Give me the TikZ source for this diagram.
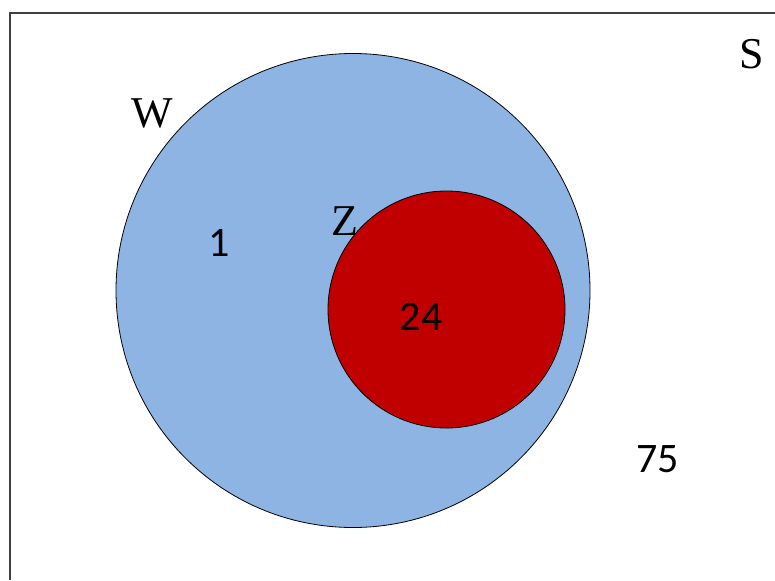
\documentclass[tikz,border=0pt]{standalone}
\usepackage{fontspec}
\setmainfont{Liberation Serif}
\newfontfamily\digitfont{Carlito}
\definecolor{wblue}{HTML}{8EB4E3}
\definecolor{zred}{HTML}{C00000}
\begin{document}
\begin{tikzpicture}[x=1pt,y=-1pt,
  setcircle/.style={circle, draw=black, line width=0.8pt, inner sep=0pt},
  seriflabel/.style={anchor=base, inner sep=0pt, font=\fontsize{44}{44}\selectfont},
  numlabel/.style={anchor=base, inner sep=0pt, font=\digitfont\fontsize{42}{42}\selectfont}]
\useasboundingbox (0,0) rectangle (775,580);
\coordinate (tl) at (10,13);
\coordinate (tr) at (775,13);
\coordinate (bl) at (10,580);
\draw[line width=2pt, black!75] (tr) -- (tl) -- (bl);
\node[setcircle, fill=wblue, minimum size=474pt] (W) at (353,290.5) {};
\node[setcircle, fill=zred, minimum size=237pt] (Z) at (446.5,309.5) {};
\node[seriflabel] (Sl) at (751.5,69) {S};
\node[seriflabel] (Wl) at (152,128) {W};
\node[seriflabel] (Zl) at (344.5,235) {Z};
\node[numlabel] (n1) at (219,256) {1};
\node[numlabel] (n24) at (421,330) {24};
\node[numlabel] (n75) at (657.5,472) {75};
\end{tikzpicture}
\end{document}
